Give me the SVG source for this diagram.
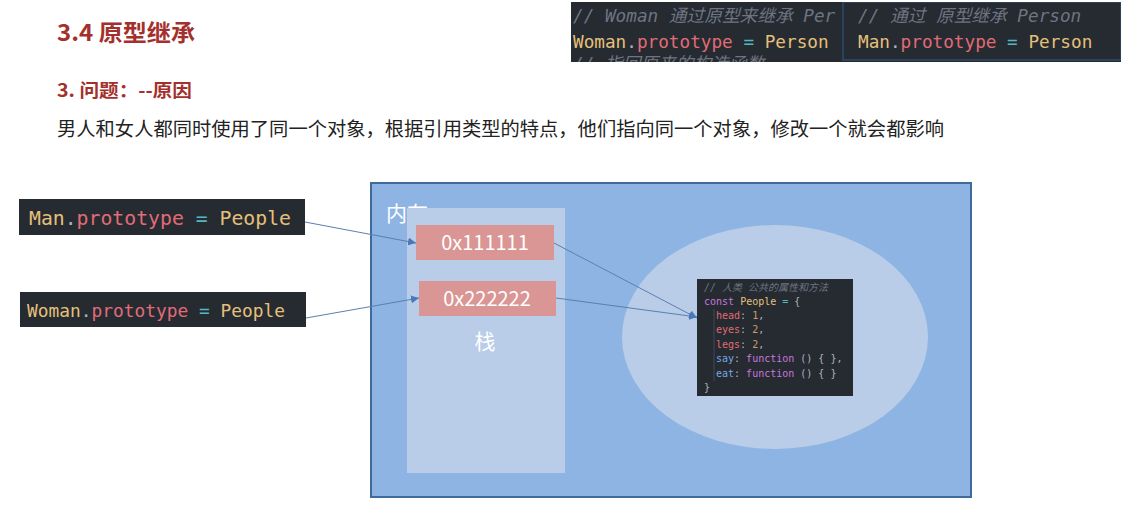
<svg xmlns="http://www.w3.org/2000/svg" width="1137" height="519" viewBox="0 0 1137 519">
<defs>
<style>
.cjk{font-family:"Noto Sans CJK SC","Noto Sans",sans-serif}
.mono{font-family:"DejaVu Sans Mono","Liberation Mono","Noto Sans CJK SC",monospace}
.codebg{fill:#262a31}
.y{fill:#e5c07b}.r{fill:#e06c75}.c{fill:#56b6c2}.p{fill:#c678dd}.o{fill:#d19a66}.b{fill:#74a9e0}.g{fill:#6e7581;font-style:italic}.w{fill:#abb2bf}
.conn{stroke:#5b7fb0;stroke-width:1;fill:none}
.addr{fill:#da9694}
.wt{fill:#ffffff}
</style>
<marker id="ah" viewBox="0 0 10 10" refX="10" refY="5" markerWidth="8" markerHeight="8" markerUnits="userSpaceOnUse" orient="auto">
<path d="M0,0 L10,5 L0,10 z" fill="#4a78b8"/>
</marker>
<clipPath id="tp"><rect x="571" y="2" width="550" height="60"/></clipPath>
</defs>
<rect width="1137" height="519" fill="#ffffff"/>

<g id="header">
<text x="57" y="41" class="cjk" font-size="23" font-weight="bold" fill="#a4302d" textLength="138" lengthAdjust="spacingAndGlyphs">3.4 原型继承</text>
<text x="57" y="97" class="cjk" font-size="18" font-weight="bold" fill="#a4302d" textLength="135" lengthAdjust="spacingAndGlyphs">3. 问题：--原因</text>
<text x="57" y="136" class="cjk" font-size="19" fill="#222222" textLength="887" lengthAdjust="spacingAndGlyphs">男人和女人都同时使用了同一个对象，根据引用类型的特点，他们指向同一个对象，修改一个就会都影响</text>
</g>

<g id="topcode" clip-path="url(#tp)">
<rect x="571" y="2" width="550" height="60" class="codebg"/>
<text x="573" y="22" class="mono g" font-size="17.7">// Woman 通过原型来继承 Per</text>
<text x="573" y="48" class="mono" font-size="17.7"><tspan class="y">Woman</tspan><tspan class="w">.</tspan><tspan class="r">prototype</tspan><tspan class="c"> = </tspan><tspan class="y">Person</tspan></text>
<text x="573" y="70" class="mono g" font-size="17.7">// 指回原来的构造函数</text>
<rect x="843" y="2" width="278" height="58" class="codebg" stroke="#2d4b6e" stroke-width="1.5"/>
<text x="858" y="22" class="mono g" font-size="17.7">// 通过 原型继承 Person</text>
<text x="858" y="48" class="mono" font-size="17.7"><tspan class="y">Man</tspan><tspan class="w">.</tspan><tspan class="r">prototype</tspan><tspan class="c"> = </tspan><tspan class="y">Person</tspan></text>
</g>

<g id="man-code">
<rect x="19" y="199" width="286" height="36" class="codebg"/>
<text x="29" y="225" class="mono" font-size="19.6" textLength="262" lengthAdjust="spacingAndGlyphs"><tspan class="y">Man</tspan><tspan class="w">.</tspan><tspan class="r">prototype</tspan><tspan class="c"> = </tspan><tspan class="y">People</tspan></text>
</g>
<g id="woman-code">
<rect x="20" y="292" width="286" height="35" class="codebg"/>
<text x="27" y="317" class="mono" font-size="17.9" textLength="258" lengthAdjust="spacingAndGlyphs"><tspan class="y">Woman</tspan><tspan class="w">.</tspan><tspan class="r">prototype</tspan><tspan class="c"> = </tspan><tspan class="y">People</tspan></text>
</g>

<g id="memory">
<rect x="371" y="183" width="600" height="314" fill="#8eb4e3" stroke="#3f6a9c" stroke-width="2"/>
<text x="386" y="221" class="cjk wt" font-size="21">内存</text>
</g>
<g id="stack">
<rect x="407" y="208" width="158" height="265" fill="#b9cde8"/>
<text x="485" y="349" class="cjk wt" font-size="21" text-anchor="middle">栈</text>
</g>
<g id="addr1">
<rect x="416" y="225" width="138" height="35" class="addr"/>
<text x="485" y="250" class="cjk wt" font-size="20" text-anchor="middle">0x111111</text>
</g>
<g id="addr2">
<rect x="419" y="281" width="137" height="35" class="addr"/>
<text x="487" y="306" class="cjk wt" font-size="20" text-anchor="middle">0x222222</text>
</g>
<g id="heap">
<ellipse cx="775" cy="337" rx="153" ry="112" fill="#b9cde8"/>
</g>
<g id="people-code">
<rect x="697" y="279" width="156" height="117" class="codebg"/>
<line x1="714" y1="309" x2="714" y2="381" stroke="#4a505a" stroke-width="0.8"/>
<g class="mono" font-size="10">
<text x="704" y="291" class="g">// 人类 公共的属性和方法</text>
<text x="704" y="305"><tspan class="p">const</tspan><tspan class="y"> People</tspan><tspan class="c"> = </tspan><tspan class="w">{</tspan></text>
<text x="716" y="319"><tspan class="r">head</tspan><tspan class="w">: </tspan><tspan class="o">1</tspan><tspan class="w">,</tspan></text>
<text x="716" y="333"><tspan class="r">eyes</tspan><tspan class="w">: </tspan><tspan class="o">2</tspan><tspan class="w">,</tspan></text>
<text x="716" y="348"><tspan class="r">legs</tspan><tspan class="w">: </tspan><tspan class="o">2</tspan><tspan class="w">,</tspan></text>
<text x="716" y="362"><tspan class="b">say</tspan><tspan class="w">: </tspan><tspan class="p">function</tspan><tspan class="w"> () { },</tspan></text>
<text x="716" y="377"><tspan class="b">eat</tspan><tspan class="w">: </tspan><tspan class="p">function</tspan><tspan class="w"> () { }</tspan></text>
<text x="704" y="391" class="w">}</text>
</g>
</g>

<g id="connectors">
<line x1="305" y1="222" x2="416" y2="243" class="conn" marker-end="url(#ah)"/>
<line x1="306" y1="318" x2="419" y2="298" class="conn" marker-end="url(#ah)"/>
<line x1="554" y1="243" x2="697" y2="318" class="conn" marker-end="url(#ah)"/>
<line x1="556" y1="298" x2="697" y2="317" class="conn" marker-end="url(#ah)"/>
</g>
</svg>
